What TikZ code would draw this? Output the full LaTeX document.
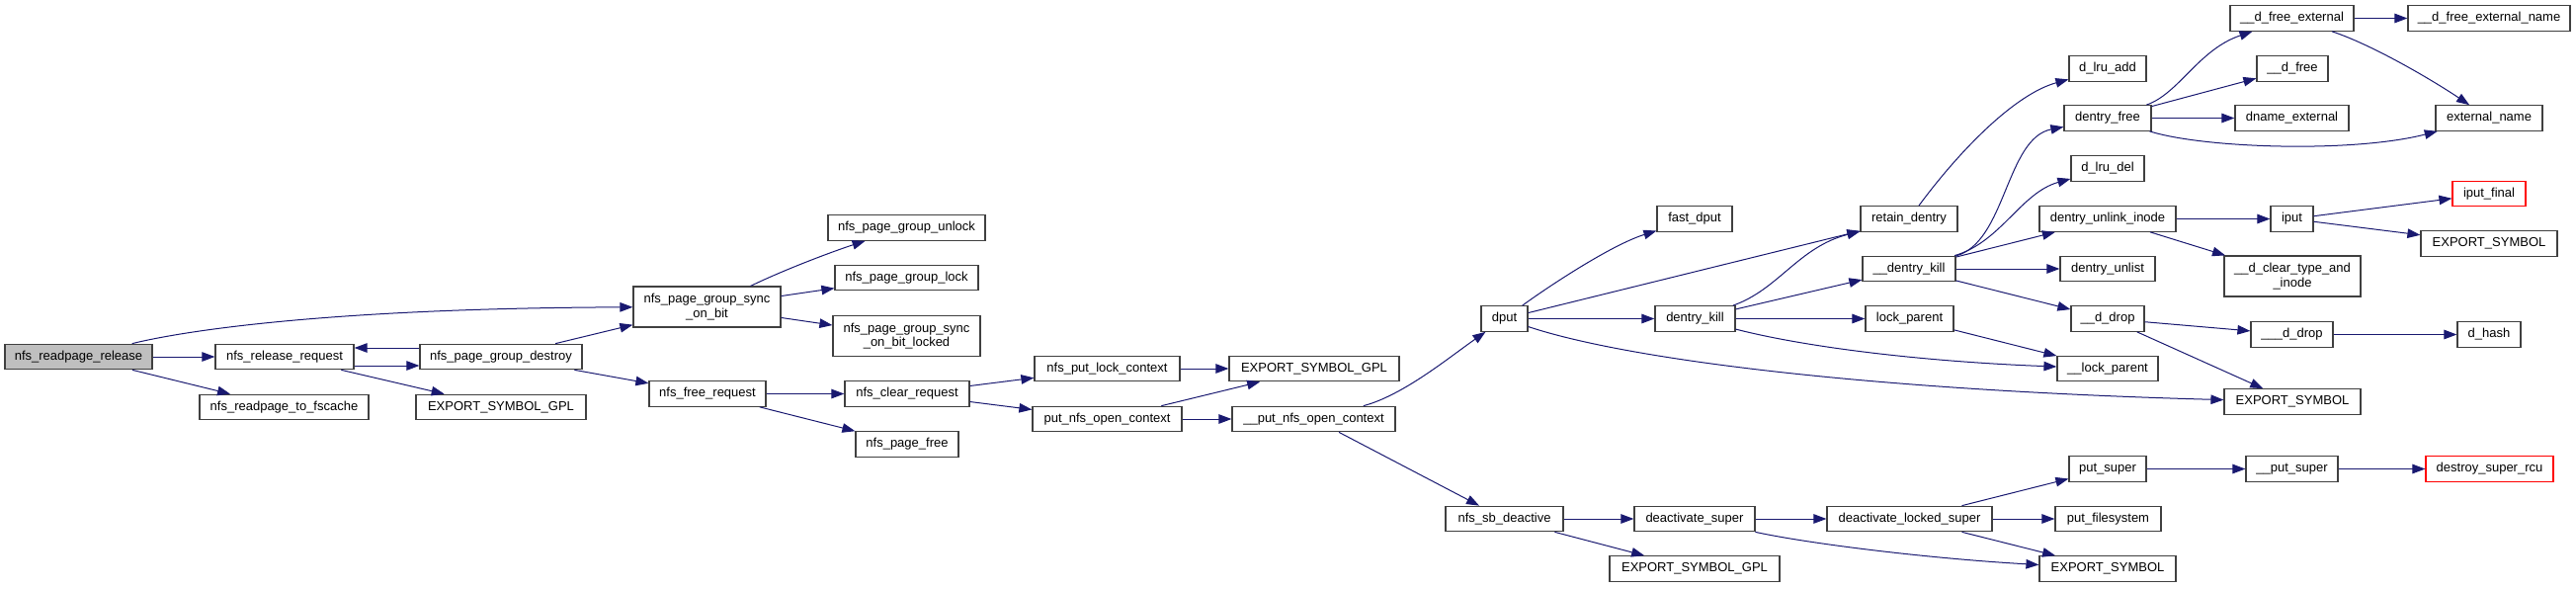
\documentclass[tikz,border=0pt]{standalone}
\usepackage{fontspec}
\setmainfont{Liberation Sans}
\usetikzlibrary{arrows.meta}

\definecolor{callblue}{HTML}{191970}
\definecolor{grey75}{HTML}{BFBFBF}
\definecolor{boxline}{HTML}{404040}

\tikzset{
  fn/.style={draw=boxline, line width=1.2pt, fill=white, inner sep=0pt,
    minimum height=25.5pt, font=\fontsize{13}{14.5}\selectfont},
  fntwo/.style={fn, minimum height=41pt, align=center},
  fnstart/.style={fn, fill=grey75},
  fnred/.style={fn, draw=red},
  call/.style={draw=callblue, line width=1pt, -{Triangle[length=13pt,width=9.5pt]}}
}

\begin{document}
\begin{tikzpicture}[x=1pt,y=-1pt]
  \useasboundingbox (0,0) rectangle (2607,595);

  % nfs side
  \node[fnstart, minimum width=149pt] (readpagerelease) at (79.5,361) {nfs\_readpage\_release};
  \node[fn, minimum width=140pt] (releaserequest) at (288,361) {nfs\_release\_request};
  \node[fn, minimum width=171pt] (readpagetofscache) at (287.5,412) {nfs\_readpage\_to\_fscache};
  \node[fn, minimum width=164pt] (groupdestroy) at (507,361) {nfs\_page\_group\_destroy};
  \node[fn, minimum width=172pt] (gplone) at (507,412) {EXPORT\_SYMBOL\_GPL};
  \node[fntwo, minimum width=149pt] (syncbit) at (715.5,310.5) {nfs\_page\_group\_sync\\\_on\_bit};
  \node[fn, minimum width=118pt] (freerequest) at (716,398.5) {nfs\_free\_request};
  \node[fn, minimum width=159pt] (groupunlock) at (917.5,230.5) {nfs\_page\_group\_unlock};
  \node[fn, minimum width=145pt] (grouplock) at (917.5,281) {nfs\_page\_group\_lock};
  \node[fntwo, minimum width=149pt] (syncbitlocked) at (917.5,340) {nfs\_page\_group\_sync\\\_on\_bit\_locked};
  \node[fn, minimum width=126pt] (clearrequest) at (918,398.5) {nfs\_clear\_request};
  \node[fn, minimum width=104pt] (pagefree) at (918,449.5) {nfs\_page\_free};
  \node[fn, minimum width=147pt] (putlockctx) at (1120.5,373) {nfs\_put\_lock\_context};
  \node[fn, minimum width=151pt] (putopenctx) at (1120.5,424) {put\_nfs\_open\_context};
  \node[fn, minimum width=172pt] (gpltwo) at (1330,373) {EXPORT\_SYMBOL\_GPL};
  \node[fn, minimum width=165pt] (uputopenctx) at (1329.5,424) {\_\_put\_nfs\_open\_context};

  % dcache side
  \node[fn, minimum width=47pt] (dput) at (1522.5,322.5) {dput};
  \node[fn, minimum width=76pt] (fastdput) at (1715,221.5) {fast\_dput};
  \node[fn, minimum width=81pt] (dentrykill) at (1715.5,322.5) {dentry\_kill};
  \node[fn, minimum width=98pt] (retaindentry) at (1932,221.5) {retain\_dentry};
  \node[fn, minimum width=94pt] (udentrykill) at (1932,272) {\_\_dentry\_kill};
  \node[fn, minimum width=89pt] (lockparent) at (1932.5,322.5) {lock\_parent};
  \node[fn, minimum width=78pt] (lruadd) at (2133,69.5) {d\_lru\_add};
  \node[fn, minimum width=88pt] (dentryfree) at (2133,119.5) {dentry\_free};
  \node[fn, minimum width=74pt] (lrudel) at (2133,170.5) {d\_lru\_del};
  \node[fn, minimum width=138pt] (unlinkinode) at (2133,221.5) {dentry\_unlink\_inode};
  \node[fn, minimum width=96pt] (dentryunlist) at (2133,272) {dentry\_unlist};
  \node[fn, minimum width=74pt] (ddrop) at (2133,322.5) {\_\_d\_drop};
  \node[fn, minimum width=102pt] (ulockparent) at (2133,373) {\_\_lock\_parent};
  \node[fn, minimum width=125pt] (freeexternal) at (2319.5,18.5) {\_\_d\_free\_external};
  \node[fn, minimum width=72pt] (udfree) at (2320,69.5) {\_\_d\_free};
  \node[fn, minimum width=115pt] (dnameexternal) at (2319.5,119.5) {dname\_external};
  \node[fn, minimum width=43pt] (iput) at (2319.5,221.5) {iput};
  \node[fntwo, minimum width=138pt] (cleartype) at (2320,279.5) {\_\_d\_clear\_type\_and\\\_inode};
  \node[fn, minimum width=83pt] (uuddrop) at (2319.5,338.5) {\_\_\_d\_drop};
  \node[fn, minimum width=138pt] (exportone) at (2320,406.5) {EXPORT\_SYMBOL};
  \node[fn, minimum width=164pt] (freeextname) at (2519,18.5) {\_\_d\_free\_external\_name};
  \node[fn, minimum width=108pt] (externalname) at (2519,119.5) {external\_name};
  \node[fnred, minimum width=74pt] (iputfinal) at (2519,196) {iput\_final};
  \node[fn, minimum width=138pt] (exporttwo) at (2519,246.5) {EXPORT\_SYMBOL};
  \node[fn, minimum width=64pt] (dhash) at (2519,338.5) {d\_hash};

  % super block side
  \node[fn, minimum width=119pt] (sbdeactive) at (1522.5,525) {nfs\_sb\_deactive};
  \node[fn, minimum width=122pt] (deactsuper) at (1715,525) {deactivate\_super};
  \node[fn, minimum width=172pt] (gplthree) at (1715,575.5) {EXPORT\_SYMBOL\_GPL};
  \node[fn, minimum width=167pt] (deactlocked) at (1932.5,525) {deactivate\_locked\_super};
  \node[fn, minimum width=78pt] (putsuper) at (2133,474.5) {put\_super};
  \node[fn, minimum width=107pt] (putfs) at (2133.5,525) {put\_filesystem};
  \node[fn, minimum width=138pt] (exportthree) at (2133,575.5) {EXPORT\_SYMBOL};
  \node[fn, minimum width=93pt] (uputsuper) at (2319.5,474.5) {\_\_put\_super};
  \node[fnred, minimum width=129pt] (destroyrcu) at (2519.5,474.5) {destroy\_super\_rcu};

  % calls
  \draw[call] (readpagerelease) .. controls (185,335) and (330,312) .. (syncbit);
  \draw[call] (readpagerelease) -- (releaserequest);
  \draw[call] (readpagerelease) -- (readpagetofscache);
  \draw[call] ([yshift=-9pt]releaserequest.east) -- ([yshift=-9pt]groupdestroy.west);
  \draw[call] ([yshift=9pt]groupdestroy.west) -- ([yshift=9pt]releaserequest.east);
  \draw[call] (releaserequest) -- (gplone);
  \draw[call] (groupdestroy) -- (syncbit);
  \draw[call] (groupdestroy) -- (freerequest);
  \draw[call] (syncbit) .. controls (800,270) and (850,252) .. (groupunlock);
  \draw[call] (syncbit) -- (grouplock);
  \draw[call] (syncbit) -- (syncbitlocked);
  \draw[call] (freerequest) -- (clearrequest);
  \draw[call] (freerequest) -- (pagefree);
  \draw[call] (clearrequest) -- (putlockctx);
  \draw[call] (clearrequest) -- (putopenctx);
  \draw[call] (putlockctx) -- (gpltwo);
  \draw[call] (putopenctx) -- (gpltwo);
  \draw[call] (putopenctx) -- (uputopenctx);
  \draw[call] (uputopenctx) .. controls (1420,400) and (1466,362) .. (dput);
  \draw[call] (uputopenctx) -- (sbdeactive);

  \draw[call] (dput) .. controls (1564,292) and (1630,248) .. (fastdput);
  \draw[call] (dput) -- (retaindentry);
  \draw[call] (dput) -- (dentrykill);
  \draw[call] (dput) .. controls (1650,365) and (1900,395) .. (exportone);
  \draw[call] (dentrykill) .. controls (1800,293) and (1820,250) .. (retaindentry);
  \draw[call] (dentrykill) -- (udentrykill);
  \draw[call] (dentrykill) -- (lockparent);
  \draw[call] (dentrykill) .. controls (1830,352) and (1950,366) .. (ulockparent);
  \draw[call] (lockparent) -- (ulockparent);
  \draw[call] (retaindentry) .. controls (1985,150) and (2040,95) .. (lruadd);
  \draw[call] (udentrykill) .. controls (2030,245) and (2030,140) .. (dentryfree);
  \draw[call] (udentrykill) .. controls (2025,245) and (2045,195) .. (lrudel);
  \draw[call] (udentrykill) -- (unlinkinode);
  \draw[call] (udentrykill) -- (dentryunlist);
  \draw[call] (udentrykill) -- (ddrop);
  \draw[call] (dentryfree) .. controls (2205,95) and (2225,50) .. (freeexternal);
  \draw[call] (dentryfree) -- (udfree);
  \draw[call] (dentryfree) -- (dnameexternal);
  \draw[call] (dentryfree) .. controls (2230,150) and (2380,155) .. (externalname);
  \draw[call] (freeexternal) -- (freeextname);
  \draw[call] (freeexternal) .. controls (2400,45) and (2460,80) .. (externalname);
  \draw[call] (unlinkinode) -- (iput);
  \draw[call] (unlinkinode) -- (cleartype);
  \draw[call] (iput) -- (iputfinal);
  \draw[call] (iput) -- (exporttwo);
  \draw[call] (ddrop) -- (uuddrop);
  \draw[call] (ddrop) -- (exportone);
  \draw[call] (uuddrop) -- (dhash);

  \draw[call] (sbdeactive) -- (deactsuper);
  \draw[call] (sbdeactive) -- (gplthree);
  \draw[call] (deactsuper) -- (deactlocked);
  \draw[call] (deactsuper) .. controls (1830,550) and (1950,565) .. (exportthree);
  \draw[call] (deactlocked) -- (putsuper);
  \draw[call] (deactlocked) -- (putfs);
  \draw[call] (deactlocked) -- (exportthree);
  \draw[call] (putsuper) -- (uputsuper);
  \draw[call] (uputsuper) -- (destroyrcu);
\end{tikzpicture}
\end{document}
